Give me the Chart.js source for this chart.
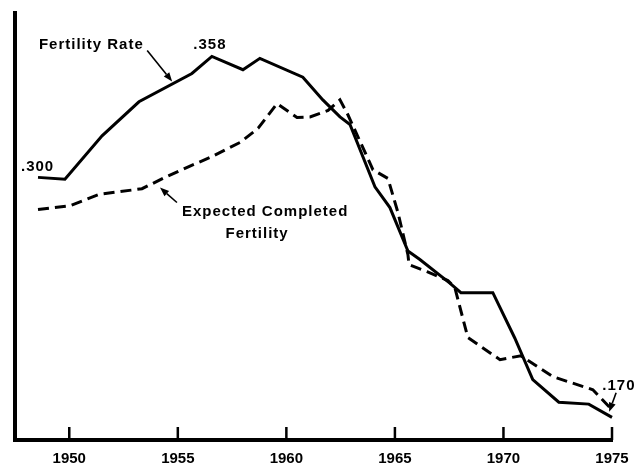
<!DOCTYPE html>
<html><head><meta charset="utf-8">
<script src="https://cdn.jsdelivr.net/npm/chart.js@4.4.1/dist/chart.umd.min.js"></script>
<style>html,body{margin:0;padding:0;background:#fff;}#wrap{width:643px;height:463px;position:relative;}</style>
</head><body><div id="wrap"><canvas id="c" width="643" height="463"></canvas></div>
<script>
// Fertility rate (solid line)
const fertilityYears = [1948.56,1949.80,1951.51,1953.21,1955.65,1956.57,1958.00,1958.78,1960.76,1961.68,1962.47,1962.93,1964.08,1964.77,1965.60,1966.15,1967.53,1968.04,1969.51,1970.52,1971.35,1972.55,1973.93,1975.00];
const fertilityRate  = [0.294,0.293,0.316,0.334,0.349,0.358,0.351,0.357,0.347,0.335,0.326,0.322,0.289,0.278,0.255,0.2505,0.238,0.233,0.233,0.209,0.187,0.175,0.174,0.167];
// Expected completed fertility (dashed line)
const expectedYears = [1948.56,1950.03,1951.37,1953.35,1954.41,1955.56,1956.48,1957.87,1958.70,1959.57,1960.49,1961.09,1961.92,1962.47,1962.84,1963.99,1964.68,1965.14,1965.60,1965.65,1966.48,1967.44,1967.76,1968.36,1969.84,1970.80,1972.28,1974.12,1975.00];
const expectedFertility = [0.277,0.279,0.285,0.288,0.294,0.300,0.3045,0.3125,0.320,0.333,0.3257,0.326,0.3294,0.335,0.327,0.298,0.2934,0.2754,0.2531,0.2478,0.2441,0.2394,0.2357,0.2092,0.1975,0.1996,0.1885,0.1816,0.171];
// X axis ticks
const tickYears  = [1950,1955,1960,1965,1970,1975];
const tickLabels = ['1950','1955','1960','1965','1970','1975'];
// Text annotations (anchored in data units)
const noteTexts  = ['Fertility Rate','.358','.300','Expected Completed','Fertility','.170'];
const noteYears  = [1948.60,1956.48,1948.54,1955.19,1958.65,1975.32];
const noteValues = [0.3644,0.3644,0.2997,0.2759,0.2643,0.1837];
const noteAlign  = ['left','center','center','left','center','center'];
// Arrows: from (year,value) to (year,value)
const arrowFromYears  = [1953.59,1954.96,1975.19];
const arrowFromValues = [0.3612,0.2807,0.1800];
const arrowToYears    = [1954.74,1954.18,1974.87];
const arrowToValues   = [0.3448,0.2886,0.1700];

const FONT = '"Liberation Sans", Arial, Helvetica, sans-serif';

const toXY = (xs, ys) => xs.map((x, i) => ({x: x, y: ys[i]}));

const decor = {
  id: 'decor',
  afterDraw(chart) {
    const ctx = chart.ctx, xs = chart.scales.x, ys = chart.scales.y, ca = chart.chartArea;
    ctx.save();
    // inward tick marks
    ctx.strokeStyle = '#000';
    ctx.lineWidth = 2.5;
    tickYears.forEach(v => {
      const px = xs.getPixelForValue(v);
      ctx.beginPath(); ctx.moveTo(px, ca.bottom); ctx.lineTo(px, ca.bottom - 13); ctx.stroke();
    });
    // texts
    ctx.fillStyle = '#000';
    ctx.font = 'bold 15px ' + FONT;
    ctx.textBaseline = 'middle';
    try { ctx.letterSpacing = '1px'; } catch (e) {}
    noteTexts.forEach((t, i) => {
      ctx.textAlign = noteAlign[i];
      ctx.fillText(t, xs.getPixelForValue(noteYears[i]), ys.getPixelForValue(noteValues[i]));
    });
    try { ctx.letterSpacing = '0px'; } catch (e) {}
    // arrows
    ctx.lineWidth = 1.6;
    arrowFromYears.forEach((_, i) => {
      const x1 = xs.getPixelForValue(arrowFromYears[i]), y1 = ys.getPixelForValue(arrowFromValues[i]);
      const x2 = xs.getPixelForValue(arrowToYears[i]), y2 = ys.getPixelForValue(arrowToValues[i]);
      const a = Math.atan2(y2 - y1, x2 - x1), L = 9, W = 3.5;
      const bx = x2 - L * Math.cos(a), by = y2 - L * Math.sin(a);
      ctx.beginPath(); ctx.moveTo(x1, y1); ctx.lineTo(bx, by); ctx.stroke();
      ctx.beginPath();
      ctx.moveTo(x2, y2);
      ctx.lineTo(bx + W * Math.sin(a), by - W * Math.cos(a));
      ctx.lineTo(bx - W * Math.sin(a), by + W * Math.cos(a));
      ctx.closePath(); ctx.fill();
    });
    ctx.restore();
  }
};

new Chart(document.getElementById('c'), {
  type: 'line',
  data: {
    datasets: [
      { label: 'Fertility Rate', data: toXY(fertilityYears, fertilityRate),
        borderColor: '#000', borderWidth: 3, pointRadius: 0, tension: 0, fill: false, clip: false },
      { label: 'Expected Completed Fertility', data: toXY(expectedYears, expectedFertility),
        borderColor: '#000', borderWidth: 3, borderDash: [11, 6], pointRadius: 0, tension: 0, fill: false, clip: false }
    ]
  },
  options: {
    responsive: false, animation: false, devicePixelRatio: 1,
    layout: { padding: { left: 15, top: 13, right: 31, bottom: 0 } },
    plugins: { legend: { display: false }, tooltip: { enabled: false } },
    scales: {
      x: {
        type: 'linear', min: 1947.5, max: 1975,
        afterBuildTicks: s => { s.ticks = tickYears.map(v => ({ value: v })); },
        afterFit: s => { s.height = 23; },
        ticks: { callback: v => tickLabels[tickYears.indexOf(v)], color: '#000', padding: 10,
                 font: { family: FONT, weight: 'bold', size: 15 }, maxRotation: 0, autoSkip: false },
        grid: { display: false, drawTicks: false },
        border: { display: true, color: '#000', width: 4 }
      },
      y: {
        type: 'linear', min: 0.155, max: 0.381,
        ticks: { display: false },
        grid: { display: false, drawTicks: false },
        border: { display: true, color: '#000', width: 4 }
      }
    }
  },
  plugins: [decor]
});
</script></body></html>
